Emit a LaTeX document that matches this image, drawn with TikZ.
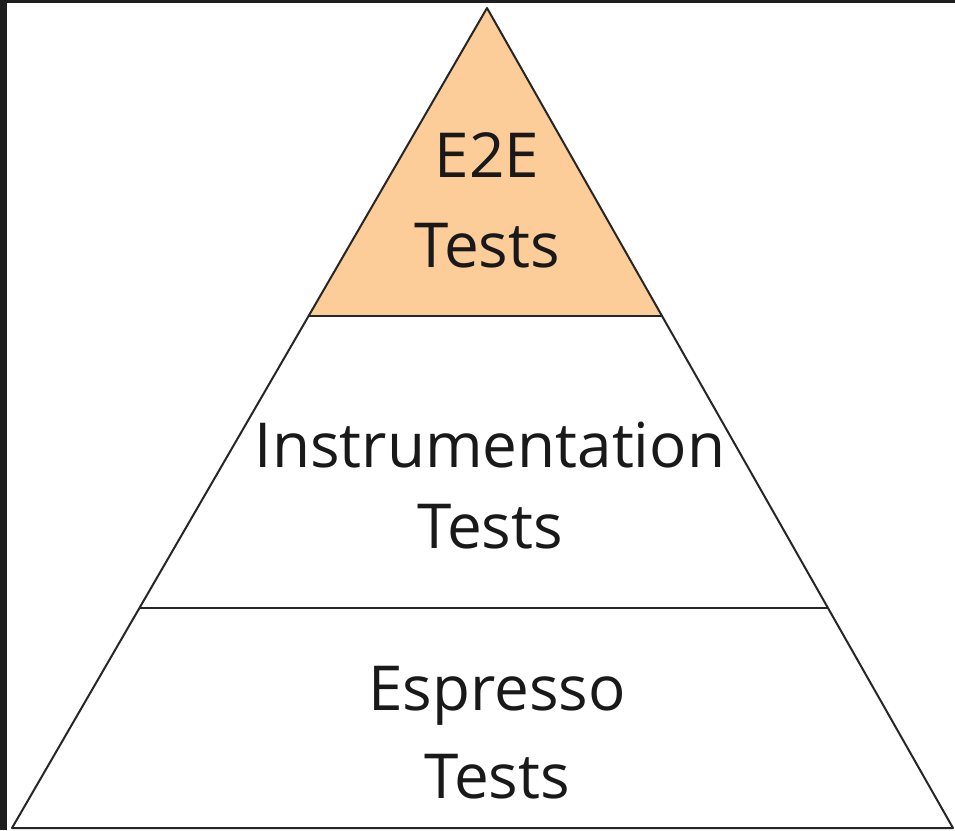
\documentclass[tikz,border=0pt]{standalone}
\usepackage{fontspec}
\setmainfont{Open Sans}
\usetikzlibrary{calc}
\definecolor{peach}{RGB}{252,204,153}
\definecolor{frame}{RGB}{30,30,30}
\begin{document}
\begin{tikzpicture}[x=1pt,y=-1pt,
  edge/.style={draw=black!85,line width=2pt,line join=round},
  lbl/.style={anchor=base,inner sep=0pt,font=\fontsize{62}{70}\selectfont,text=black!90}]
\fill[frame] (0,0) rectangle (955,830);
\fill[white] (7,3) rectangle (955,830);
\useasboundingbox (0,0) rectangle (955,830);
\coordinate (apex) at (487,8);
\coordinate (bl) at (12,828);
\coordinate (br) at (953,828);
\coordinate (t1l) at ($(apex)!0.3756!(bl)$);
\coordinate (t1r) at ($(apex)!0.3756!(br)$);
\coordinate (t2l) at ($(apex)!0.7317!(bl)$);
\coordinate (t2r) at ($(apex)!0.7317!(br)$);
\fill[peach] (apex) -- (t1r) -- (t1l) -- cycle;
\draw[edge] (apex) -- (bl) -- (br) -- cycle;
\draw[edge] (t1l) -- (t1r);
\draw[edge] (t2l) -- (t2r);
\node[lbl] (a1) at (487,177) {E2E};
\node[lbl] (a2) at (487,267) {Tests};
\node[lbl] (b1) at (490,467) {Instrumentation};
\node[lbl] (b2) at (490,548) {Tests};
\node[lbl] (c1) at (497,710) {Espresso};
\node[lbl] (c2) at (497,798) {Tests};
\end{tikzpicture}
\end{document}
